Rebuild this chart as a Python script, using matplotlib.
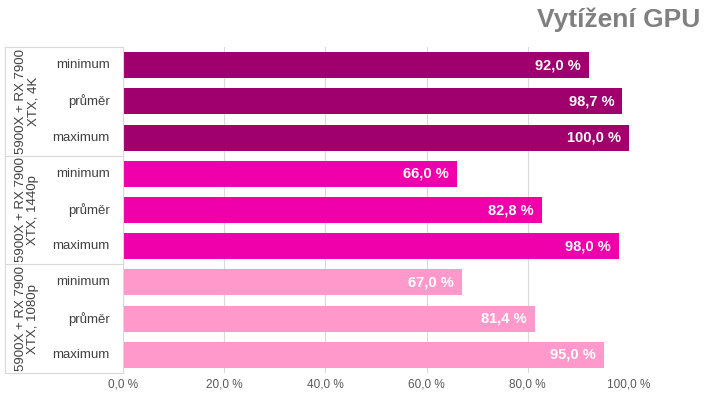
import matplotlib.pyplot as plt
import numpy as np

plt.rcParams['font.family'] = ['Liberation Sans', 'DejaVu Sans']

groups = ['5900X + RX 7900\nXTX, 4K', '5900X + RX 7900\nXTX, 1440p', '5900X + RX 7900\nXTX, 1080p']
stats = ['minimum', 'průměr', 'maximum']
values = [
    [92.0, 98.7, 100.0],
    [66.0, 82.8, 98.0],
    [67.0, 81.4, 95.0],
]
colors = ['#A0006E', '#F000AA', '#FF99CC']
ticks = [0, 20, 40, 60, 80, 100]

fig = plt.figure(figsize=(7.2, 4.05), dpi=100)
ax = fig.add_axes([123 / 720, 1 - 373 / 405, (629 - 123) / 720, (373 - 47) / 405])

n = len(groups) * len(stats)
for gi, (grp, vals) in enumerate(zip(groups, values)):
    for si, v in enumerate(vals):
        y = gi * len(stats) + si
        ax.barh(y, v, height=0.72, color=colors[gi], zorder=2)
        ax.text(v - 1.6, y, f'{v:.1f} %'.replace('.', ','), ha='right', va='center',
                color='white', fontsize=10.5, fontweight='bold', zorder=3)
        ax.text(-2.6, y, stats[si], ha='right', va='center', fontsize=9.5, color='#404040')

ax.set_ylim(n - 0.5, -0.5)
ax.set_xlim(0, 100)
ax.set_xticks(ticks)
ax.set_xticklabels([f'{t:.1f} %'.replace('.', ',') for t in ticks], fontsize=8.5, color='#595959')
ax.set_yticks([])
ax.tick_params(axis='x', length=0, pad=4)
ax.grid(axis='x', color='#D9D9D9', lw=0.8, zorder=0)
for s in ['top', 'right', 'bottom']:
    ax.spines[s].set_visible(False)
ax.spines['left'].set_color('#D9D9D9')

# category box on the left
x0 = -118 / 506 * 100
line_kw = dict(color='#D9D9D9', lw=0.8, clip_on=False)
for b in [-0.5, 2.5, 5.5, 8.5]:
    ax.plot([x0, 0], [b, b], **line_kw)
ax.plot([x0, x0], [-0.5, 8.5], **line_kw)
for gi, grp in enumerate(groups):
    ax.text(x0 + 4.4, gi * 3 + 1, grp, rotation=90, ha='center', va='center',
            fontsize=9.5, color='#404040', linespacing=1.0, multialignment='center')

fig.text(700 / 720, 1 - 20 / 405, 'Vytížení GPU', ha='right', va='center',
         fontsize=19, fontweight='bold', color='#808080')

fig.savefig('out.png', dpi=100)
